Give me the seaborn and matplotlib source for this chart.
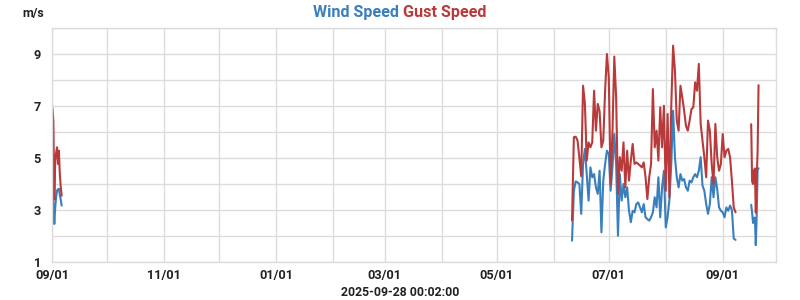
import matplotlib
matplotlib.use("Agg")
import matplotlib.pyplot as plt
import matplotlib.dates as mdates
from matplotlib.ticker import MultipleLocator, FixedLocator
import seaborn as sns
import pandas as pd
import numpy as np

# ---- data ----
early_start = "2024-09-01 06:00"
early_wind = [3.49, 3.3, 2.46, 3.1, 3.5, 3.74, 3.8, 3.81, 3.6, 3.4, 3.17]
early_gust = [6.92, 6.4, 3.4, 4.9, 5.2, 5.41, 4.77, 5.28, 4.38, 3.9, 3.55]

main_start = "2025-06-11"
main_wind = [1.82, 3.74, 4.10, 4.06, 4.0, 2.85, 4.77, 5.35, 4.38, 3.36,
             4.64, 4.26, 4.38, 3.87, 3.62, 4.51, 2.14, 4.13, 4.77, 5.28,
             5.15, 3.74, 4.64, 5.92, 4.77, 2.01, 4.38, 3.36, 4.0, 3.49,
             3.87, 2.97, 2.53, 2.97, 2.91, 3.23, 3.29, 3.10, 2.91, 3.23,
             2.72, 2.65, 2.59, 2.72, 2.91, 3.49, 3.10, 4.26, 2.72, 3.87,
             4.51, 2.33, 2.72, 3.4, 4.77, 6.82, 5.03, 4.26, 3.87, 4.38,
             4.13, 4.19, 3.87, 3.74, 4.13, 4.06, 4.26, 4.38, 4.26, 4.51,
             5.03, 3.94, 3.74, 3.23, 2.85, 3.23, 4.26, 3.49, 4.26, 3.81,
             3.10, 2.97, 2.91, 2.72, 3.10, 2.97, 3.17, 3.0, 1.9, 1.85]
main_gust = [2.6, 5.8, 5.82, 5.67, 5.0, 4.3, 7.78, 7.1, 4.9, 5.6,
             5.41, 5.6, 7.59, 6.05, 7.08, 6.8, 5.41, 5.67, 7.59, 9.0,
             8.1, 4.0, 6.0, 8.9, 7.33, 3.62, 5.03, 4.51, 5.6, 3.87,
             5.28, 4.13, 4.9, 5.54, 4.77, 4.83, 4.77, 4.71, 4.64, 4.83,
             4.26, 3.42, 4.26, 4.77, 7.65, 5.41, 6.05, 4.9, 6.95, 5.41,
             7.01, 3.74, 6.69, 3.49, 7.0, 9.32, 8.36, 6.44, 6.05, 7.78,
             7.33, 6.82, 6.24, 6.05, 6.44, 6.88, 6.95, 7.91, 7.59, 8.62,
             6.31, 5.67, 5.03, 4.26, 6.44, 6.05, 4.77, 4.0, 6.31, 5.03,
             4.51, 4.77, 5.92, 5.03, 5.28, 5.35, 5.03, 4.13, 3.10, 2.91]

late_start = "2025-09-16 12:00"
late_wind = [3.2, 2.9, 2.5, 2.7, 2.7, 1.65, 2.8, 4.6, 4.6]
late_gust = [6.3, 4.1, 4.0, 4.5, 4.6, 2.9, 4.2, 5.3, 7.8]

series_names = ["Wind Speed", "Gust Speed"]
colors = {"Wind Speed": "#3a7fbd", "Gust Speed": "#b93a3a"}
y_ticks = [1, 3, 5, 7, 9]
x_tick_labels_fmt = "%m/%d"
unit_label = "m/s"
x_label = "2025-09-28 00:02:00"
x_min, x_max = "2024-09-01", "2025-09-30"

# ---- build frame ----
segments = [
    (pd.date_range(early_start, periods=len(early_wind), freq="12h"), early_wind, early_gust),
    (pd.date_range(main_start, periods=len(main_wind), freq="D"), main_wind, main_gust),
    (pd.date_range(late_start, periods=len(late_wind), freq="12h"), late_wind, late_gust),
]
rows = []
for seg_id, (times, wind, gust) in enumerate(segments):
    for t, w, g in zip(times, wind, gust):
        rows.append({"time": t, "value": w, "series": "Wind Speed", "segment": seg_id})
        rows.append({"time": t, "value": g, "series": "Gust Speed", "segment": seg_id})
df = pd.DataFrame(rows)

sns.set_theme(style="white")
plt.rcParams["font.family"] = ["Roboto", "DejaVu Sans"]

fig = plt.figure(figsize=(8, 3), dpi=100)
ax = fig.add_axes([0.065, 0.1267, 0.905, 0.78])

sns.lineplot(data=df, x="time", y="value", hue="series", units="segment",
             estimator=None, palette=colors, hue_order=series_names,
             linewidth=1.5, legend=False, ax=ax, sort=True)

ax.set_xlim(pd.Timestamp(x_min), pd.Timestamp(x_max))
ax.set_ylim(1, 10)

ax.xaxis.set_major_locator(mdates.MonthLocator(bymonth=[1, 3, 5, 7, 9, 11]))
ax.xaxis.set_major_formatter(mdates.DateFormatter(x_tick_labels_fmt))
ax.xaxis.set_minor_locator(mdates.MonthLocator())
ax.yaxis.set_major_locator(FixedLocator(y_ticks))
ax.yaxis.set_minor_locator(MultipleLocator(1))

ax.grid(True, which="both", color="#dcdcdc", linewidth=1.0)
ax.set_axisbelow(True)
for s in ax.spines.values():
    s.set_color("#dcdcdc")
    s.set_linewidth(1.0)

ax.tick_params(axis="both", which="both", length=0, labelsize=9.2, colors="#222222")
ax.tick_params(axis="x", pad=5)
ax.tick_params(axis="y", pad=8)
for lbl in ax.get_xticklabels() + ax.get_yticklabels():
    lbl.set_fontweight("bold")

ax.set_xlabel("")
ax.set_ylabel("")
fig.text(0.5, 1 - 293 / 300, x_label, fontsize=8.8, fontweight="bold", color="#222222",
         ha="center", va="center")

fig.text(0.028, 0.955, unit_label, fontsize=9, fontweight="bold", color="#222222",
         ha="left", va="center")

# two-coloured title
fig.canvas.draw()
renderer = fig.canvas.get_renderer()
t1 = fig.text(0, 0.958, series_names[0], fontsize=11.6, fontweight="bold",
              color=colors["Wind Speed"], ha="left", va="center")
t2 = fig.text(0, 0.958, " " + series_names[1], fontsize=11.6, fontweight="bold",
              color=colors["Gust Speed"], ha="left", va="center")
w1 = t1.get_window_extent(renderer).width
w2 = t2.get_window_extent(renderer).width
W = fig.bbox.width
x0 = (W * 0.5 - (w1 + w2) / 2) / W
t1.set_x(x0)
t2.set_x(x0 + w1 / W)

fig.savefig("out.png", dpi=100)
